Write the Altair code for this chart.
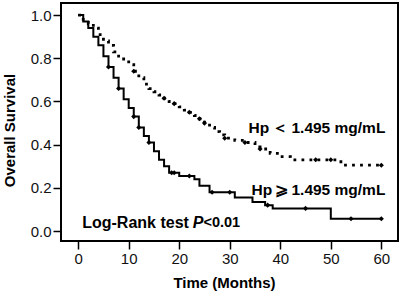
import altair as alt
import pandas as pd

# High Hp group (solid)
high_t = [0, 1, 2, 3, 4, 5, 6, 7, 8, 9, 10, 11, 12, 13, 14, 15, 16, 17, 18, 20, 23, 24, 26, 31, 34.5, 37, 38.5, 50, 60]
high_s = [1.0, 0.97, 0.94, 0.90, 0.86, 0.81, 0.76, 0.71, 0.66, 0.61, 0.57, 0.53, 0.48, 0.44, 0.41, 0.37, 0.33, 0.30, 0.27, 0.255, 0.24, 0.21, 0.18, 0.155, 0.135, 0.12, 0.105, 0.057, 0.057]
high_cens = [6, 8, 11, 12, 14, 18.5, 19, 22, 26.5, 30, 37.5, 45, 54, 60]

# Low Hp group (dotted)
low_t = [0, 1, 2, 3, 4, 5, 6, 7, 8, 9, 10, 11, 12, 13, 14, 15, 16, 17, 18, 19, 20, 21, 22, 23, 24, 25, 26, 27, 28, 29, 31, 33, 35, 36, 38, 40, 42, 52, 60]
low_s = [1.0, 0.98, 0.96, 0.94, 0.91, 0.88, 0.86, 0.83, 0.81, 0.79, 0.77, 0.74, 0.71, 0.68, 0.66, 0.645, 0.63, 0.615, 0.60, 0.59, 0.575, 0.56, 0.55, 0.535, 0.52, 0.50, 0.48, 0.46, 0.445, 0.43, 0.42, 0.41, 0.39, 0.38, 0.36, 0.345, 0.33, 0.305, 0.305]
low_cens = [11, 17, 19, 22, 24, 25, 29, 33, 36, 47, 50, 60]

x_ticks = [0, 10, 20, 30, 40, 50, 60]
y_ticks = [0.0, 0.2, 0.4, 0.6, 0.8, 1.0]


def step_at(ts, ss, t):
    v = ss[0]
    for ti, si in zip(ts, ss):
        if ti <= t:
            v = si
    return v


high_df = pd.DataFrame({"t": high_t, "s": high_s})
low_df = pd.DataFrame({"t": low_t, "s": low_s})
hc_df = pd.DataFrame({"t": high_cens, "s": [step_at(high_t, high_s, c) for c in high_cens]})
lc_df = pd.DataFrame({"t": low_cens, "s": [step_at(low_t, low_s, c) for c in low_cens]})

FONT = "Liberation Sans"

xs = alt.Scale(domain=[-3.4, 63.3], nice=False, zero=False)
ys = alt.Scale(domain=[-0.046, 1.056], nice=False, zero=False)

xenc = alt.X("t:Q", scale=xs, axis=alt.Axis(
    values=x_ticks, title="Time (Months)", format="d", grid=False, domain=False,
    tickSize=8, tickWidth=1.5, tickColor="black", labelPadding=2,
    labelFontSize=15, labelColor="#111", labelFont=FONT,
    titleFontSize=15, titleFont=FONT, titleFontWeight="bold", titleColor="black",
    titleX=163, titleY=41, titleBaseline="middle"))
yenc = alt.Y("s:Q", scale=ys, axis=alt.Axis(
    values=y_ticks, title="Overall Survival", format=".1f", grid=False, domain=False,
    tickSize=8, tickWidth=1.5, tickColor="black", labelPadding=2,
    labelFontSize=15, labelColor="#111", labelFont=FONT,
    titleFontSize=15, titleFont=FONT, titleFontWeight="bold", titleColor="black",
    titleX=-52, titleY=127, titleAngle=270, titleBaseline="middle"))

high_line = alt.Chart(high_df).mark_line(
    interpolate="step-after", color="black", strokeWidth=2).encode(x=xenc, y=yenc)
low_line = alt.Chart(low_df).mark_line(
    interpolate="step-after", color="black", strokeWidth=2.8, strokeDash=[2.8, 5.2]).encode(x="t:Q", y="s:Q")
high_pts = alt.Chart(hc_df).mark_point(
    shape="diamond", filled=True, color="black", size=26, opacity=1).encode(x="t:Q", y="s:Q")
low_pts = alt.Chart(lc_df).mark_point(
    shape="diamond", filled=True, color="black", size=26, opacity=1).encode(x="t:Q", y="s:Q")

labels = pd.DataFrame({
    "t": [60.8, 60.8],
    "s": [0.477, 0.19],
    "txt": ["Hp\u2009＜\u20091.495 mg/mL", "Hp\u2009⩾\u20091.495 mg/mL"],
})
lab = alt.Chart(labels).mark_text(
    align="right", baseline="middle", font=FONT, fontSize=15.5, fontWeight="bold", color="black"
).encode(x="t:Q", y="s:Q", text="txt:N")

lr_a = pd.DataFrame({"t": [0.8], "s": [0.037], "txt": ["Log-Rank test"]})
lr_b = pd.DataFrame({"t": [22.7], "s": [0.037], "txt": ["P"]})
lr_c = pd.DataFrame({"t": [24.8], "s": [0.037], "txt": ["<0.01"]})
lr1 = alt.Chart(lr_a).mark_text(
    align="left", baseline="middle", font=FONT, fontSize=16, fontWeight="bold", color="black"
).encode(x="t:Q", y="s:Q", text="txt:N")
lr2 = alt.Chart(lr_b).mark_text(
    align="left", baseline="middle", font=FONT, fontSize=16, fontWeight="bold", fontStyle="italic", color="black"
).encode(x="t:Q", y="s:Q", text="txt:N")
lr3 = alt.Chart(lr_c).mark_text(
    align="left", baseline="middle", font=FONT, fontSize=14.5, fontWeight="bold", color="black"
).encode(x="t:Q", y="s:Q", text="txt:N")

chart = alt.layer(high_line, low_line, high_pts, low_pts, lab, lr1, lr2, lr3).properties(
    width=337, height=238,
    autosize=alt.AutoSizeParams(type="none"),
    padding={"left": 61, "top": 3, "right": 2, "bottom": 53},
    background="white",
).configure_view(stroke="black", strokeWidth=2)

chart.save("out.html", embed_options={"renderer": "svg", "actions": False})
